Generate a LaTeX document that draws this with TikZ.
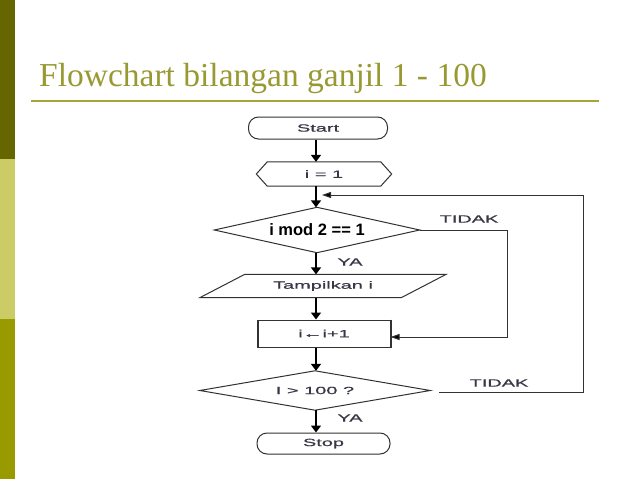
\documentclass[tikz,border=0pt]{standalone}
\usepackage{fontspec}
\usetikzlibrary{arrows.meta}
\newfontfamily\flowfont[FakeStretch=1.9,FakeBold=0.6]{Liberation Sans}
\newfontfamily\flowbold{Liberation Sans}
\newfontfamily\titlefont{Liberation Serif}
\definecolor{barA}{RGB}{102,102,0}
\definecolor{barB}{RGB}{204,204,102}
\definecolor{barC}{RGB}{153,153,0}
\definecolor{titlecol}{RGB}{153,153,51}
\definecolor{rulecol}{RGB}{165,165,60}
\definecolor{fctext}{RGB}{55,55,70}
\definecolor{fcline}{RGB}{50,50,50}
\begin{document}
\begin{tikzpicture}[x=1pt,y=-1pt,
  box/.style n args={2}{draw=none,inner sep=0pt,minimum width=#1,minimum height=#2,
    font=\flowfont\fontsize{10.5}{12}\selectfont,text=fctext},
  term/.style={draw=fcline,line width=1pt,rounded corners=10pt},
  outline/.style={draw=fcline,line width=1pt},
  mainarrow/.style={line width=1.8pt,black,-{Triangle[length=7pt,width=10pt]}},
  thinline/.style={line width=1pt,fcline},
  thinarrow/.style={line width=1pt,fcline,-{Triangle[length=9pt,width=6pt,fill=black]}},
  lbl/.style={font=\flowfont\fontsize{10.5}{12}\selectfont,text=fctext,inner sep=0pt}]
\useasboundingbox (0,0) rectangle (638,479);
\fill[white] (0,0) rectangle (638,479);
% left bars
\fill[barA] (0,0) rectangle (15,159);
\fill[barB] (0,159) rectangle (15,319);
\fill[barC] (0,319) rectangle (15,479);
% title
\node[anchor=base west,inner sep=0pt,text=titlecol,font=\titlefont\fontsize{33.5}{36}\selectfont] (title) at (39,86) {Flowchart bilangan ganjil 1 - 100};
\draw[rulecol,line width=1.6pt] (31,101) -- (599,101);
% nodes
\node[box={139pt}{22pt},term,draw] (start) at (318,128) {Start};
\node[box={135pt}{24pt}] (init) at (324,174) {i = 1};
\draw[outline] (init.west) -- ([xshift=11pt]init.north west) -- ([xshift=-11pt]init.north east) -- (init.east) -- ([xshift=-11pt]init.south east) -- ([xshift=11pt]init.south west) -- cycle;
\node[box={205pt}{45pt},font=\flowbold\bfseries\fontsize{16.5}{18}\selectfont,text=black] (d1) at (317,230) {i mod 2 == 1};
\draw[outline] (d1.west) -- (d1.north) -- (d1.east) -- (d1.south) -- cycle;
\node[box={246pt}{23pt}] (out) at (323,286) {Tampilkan i};
\draw[outline] ([xshift=45pt]out.north west) -- (out.north east) -- ([xshift=-45pt]out.south east) -- (out.south west) -- cycle;
\node[box={132pt}{27pt},outline,draw] (inc) at (324,333.5) {i←i+1};
\draw[fcline,line width=2pt] (inc.north west) -- (inc.south west) (inc.north east) -- (inc.south east);
\node[box={230pt}{39pt}] (d2) at (315,390.5) {I > 100 ?};
\draw[outline] (d2.west) -- (d2.north) -- (d2.east) -- (d2.south) -- cycle;
\node[box={133pt}{21pt},term,draw] (stop) at (323.5,443.5) {Stop};
% labels
\node[lbl] (t1) at (469,219) {TIDAK};
\node[lbl] (t2) at (499,383) {TIDAK};
\node[lbl] (y1) at (350,262) {YA};
\node[lbl] (y2) at (350,418) {YA};
% main arrows
\coordinate (axis) at (316,0);
\draw[mainarrow] (axis |- start.south) -- (axis |- init.north);
\draw[mainarrow] (axis |- init.south) -- (axis |- d1.north);
\draw[mainarrow] (axis |- d1.south) -- (axis |- out.north);
\draw[mainarrow] (axis |- out.south) -- (axis |- inc.north);
\draw[mainarrow] (axis |- inc.south) -- (axis |- d2.north);
\draw[mainarrow] (axis |- d2.south) -- (axis |- stop.north);
% TIDAK branch of first decision
\coordinate (r1) at (507,230);
\draw[thinarrow] (d1.east) -- (r1) |- ([yshift=-3.5pt]inc.east);
% loop back from second decision
\coordinate (l0) at (439,392);
\coordinate (l1) at (583,392);
\coordinate (loopend) at (322,195);
\draw[thinarrow] (l0) -- (l1) |- (loopend);
\end{tikzpicture}
\end{document}
